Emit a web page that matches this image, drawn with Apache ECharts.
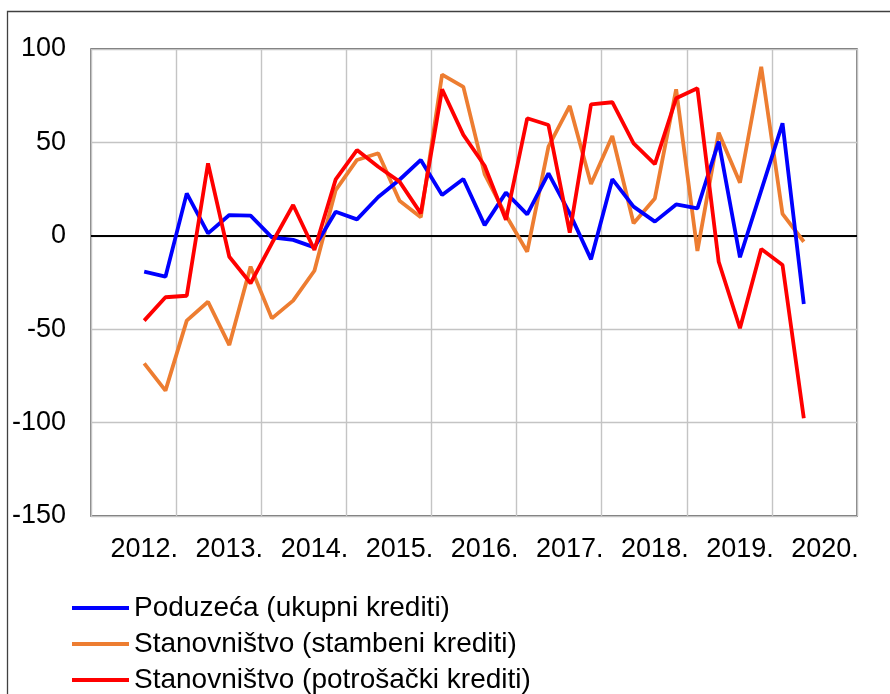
<!DOCTYPE html>
<html>
<head>
<meta charset="utf-8">
<script src="https://cdn.jsdelivr.net/npm/echarts@6/dist/echarts.min.js"></script>
<style>
  html, body { margin: 0; padding: 0; background: #fff; }
  #chart { width: 890px; height: 694px; }
</style>
</head>
<body>
<div id="chart"></div>
<script>
// kvartali 2012.-2020., crta počinje u 3. kvartalu 2012. i završava u 2. kvartalu 2020.
var years = ['2012.', '2013.', '2014.', '2015.', '2016.', '2017.', '2018.', '2019.', '2020.'];
var quarters = ['Q1', 'Q2', 'Q3', 'Q4'];
var leadNulls = 2;
var trailNulls = 2;

var yTicks = [-150, -100, -50, 0, 50, 100];

var seriesNames = ['Poduzeća (ukupni krediti)', 'Stanovništvo (stambeni krediti)', 'Stanovništvo (potrošački krediti)'];

var poduzeca = [-19.2, -21.9, 22.7, 1.3, 11.1, 10.8, -0.8, -2.2, -6.2, 12.9, 8.8, 20.8,
  30, 40.6, 21.8, 30.4, 5.7, 23.1, 11.5, 33.4, 12, -12.6, 30.3, 15.6,
  7.6, 16.8, 14.7, 50.4, -11.5, 24.3, 60.2, -36.5];
var stambeni = [-68.3, -82.9, -45.4, -35.3, -58.5, -16.5, -44.2, -34.7, -18.7, 24.5, 40.6, 44.2,
  18.8, 9.9, 86.3, 79.7, 33, 11, -8.5, 47.8, 69.5, 27.7, 53.4, 6.7,
  20, 78.4, -8.1, 55.2, 28.4, 90.5, 11.7, -3.2];
var potrosacki = [-45.4, -32.9, -32.1, 38.8, -11.2, -25.4, -4, 16.5, -7.6, 30.2, 45.9, 37,
  29, 12, 78.4, 54, 37.5, 8.5, 62.9, 59.3, 1.7, 70.4, 71.5, 49.5,
  38.4, 73.6, 79, -13.9, -49.5, -7.1, -15.6, -97.7];

var colors = ['#0000FF', '#ED7D31', '#FF0000'];

var categories = [];
years.forEach(function (y) {
  quarters.forEach(function (q) { categories.push(y + ' ' + q); });
});

function pad(arr) {
  var out = [];
  for (var i = 0; i < leadNulls; i++) out.push(null);
  out = out.concat(arr);
  for (var j = 0; j < trailNulls; j++) out.push(null);
  return out;
}

var font = "'Liberation Sans', Arial, sans-serif";

var myChart = echarts.init(document.getElementById('chart'));
var option = {
  animation: false,
  color: colors,
  grid: {
    left: 91,
    top: 49,
    right: 33,
    bottom: 178,
    show: true,
    borderColor: '#404040',
    borderWidth: 1.3,
    containLabel: false
  },
  graphic: [{
    type: 'rect',
    left: 5,
    top: 9,
    shape: { width: 900, height: 700 },
    style: { fill: 'none', stroke: '#404040', lineWidth: 1.3 },
    silent: true
  }],
  legend: {
    orient: 'vertical',
    left: 72,
    top: 594,
    padding: 0,
    icon: 'rect',
    itemWidth: 57,
    itemHeight: 4,
    itemGap: 8,
    data: seriesNames,
    textStyle: {
      color: '#000',
      fontFamily: font,
      fontSize: 28,
      lineHeight: 28
    }
  },
  xAxis: [{
    type: 'category',
    data: categories,
    boundaryGap: true,
    axisLine: { show: false },
    axisTick: { show: false },
    axisLabel: {
      interval: function (i) { return i % 4 === 2; },
      formatter: function (v) { return v.slice(0, 5); },
      margin: 20,
      color: '#000',
      fontFamily: font,
      fontSize: 27
    },
    splitLine: {
      show: true,
      interval: function (i) { return i % 4 === 0; },
      lineStyle: { color: '#c4c4c4', width: 1.4 }
    }
  }],
  yAxis: [{
    type: 'value',
    min: yTicks[0],
    max: yTicks[yTicks.length - 1],
    interval: 50,
    axisLine: { show: false },
    axisTick: { show: false },
    axisLabel: {
      margin: 25,
      color: '#000',
      fontFamily: font,
      fontSize: 27
    },
    splitLine: {
      show: true,
      lineStyle: { color: '#c4c4c4', width: 1.4 }
    }
  }],
  series: [{
    name: seriesNames[0],
    type: 'line',
    data: pad(poduzeca),
    symbol: 'none',
    lineStyle: { width: 3.8, color: colors[0] },
    markLine: {
      silent: true,
      symbol: 'none',
      label: { show: false },
      lineStyle: { color: '#000', type: 'solid', width: 2 },
      data: [{ yAxis: 0 }],
      z: 1
    },
    z: 4
  }, {
    name: seriesNames[1],
    type: 'line',
    data: pad(stambeni),
    symbol: 'none',
    lineStyle: { width: 3.8, color: colors[1] },
    z: 3
  }, {
    name: seriesNames[2],
    type: 'line',
    data: pad(potrosacki),
    symbol: 'none',
    lineStyle: { width: 3.8, color: colors[2] },
    z: 5
  }]
};
myChart.setOption(option);
</script>
</body>
</html>
